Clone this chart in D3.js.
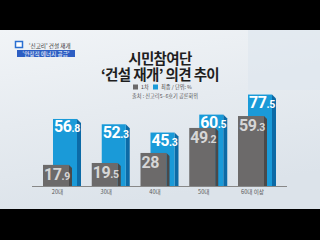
<!DOCTYPE html>
<html><head><meta charset="utf-8">
<script src="https://cdn.jsdelivr.net/npm/d3@7"></script>
<style>
html,body{margin:0;padding:0;background:#000;}
svg{display:block;}
</style></head>
<body>
<svg id="c" width="320" height="240"></svg>
<script>
const categories = ["20대", "30대", "40대", "50대", "60대 이상"];
const firstValues = [17.9, 19.5, 28, 49.2, 59.3];
const finalValues = [56.8, 52.3, 45.3, 60.5, 77.5];
const titleLines = ["시민참여단", "‘건설 재개’ 의견 추이"];
const legendLabels = ["1차", "최종 / 단위: %"];
const sourceText = "출처 : 신고리5·6호기 공론화위";
const badgeTop = "‘신고리’ 건설 재개";
const badgeBottom = "‘안정적 에너지 공급’";

const svg = d3.select("#c");
const KR = "'Noto Sans CJK KR','Noto Sans',sans-serif";

// background
const defs = svg.append("defs");
const g1 = defs.append("linearGradient").attr("id","bg").attr("x1","0").attr("y1","0").attr("x2","0.3").attr("y2","1");
g1.append("stop").attr("offset","0").attr("stop-color","#f1f4f7");
g1.append("stop").attr("offset","0.5").attr("stop-color","#e6ebf0");
g1.append("stop").attr("offset","1").attr("stop-color","#dce3ea");
svg.append("rect").attr("x",0).attr("y",0).attr("width",320).attr("height",240).attr("fill","#000");
svg.append("rect").attr("x",0).attr("y",30).attr("width",320).attr("height",179).attr("fill","url(#bg)");
svg.append("rect").attr("x",248).attr("y",30).attr("width",72).attr("height",60).attr("fill","#dde6ee").attr("opacity",0.6);

// badge
svg.append("rect").attr("x",15.5).attr("y",41.5).attr("width",7).attr("height",6).attr("fill","#fff").attr("stroke","#2a6fd1").attr("stroke-width",1.5);
svg.append("text").attr("x",29).attr("y",47.5).attr("font-family",KR).attr("font-size",5.6).attr("fill","#333").text(badgeTop);
svg.append("rect").attr("x",17).attr("y",50).attr("width",58).attr("height",7).attr("fill","#2d5ec3");
svg.append("text").attr("x",46).attr("y",55.6).attr("text-anchor","middle").attr("font-family",KR).attr("font-size",5.6).attr("fill","#fff").text(badgeBottom);

// title (one text, two lines)
const title = svg.append("text").attr("text-anchor","middle")
  .attr("font-family",KR).attr("font-weight","bold").attr("font-size",14.5).attr("letter-spacing",-0.6)
  .attr("fill","#1e1e1e");
titleLines.forEach((l,i)=>{
  title.append("tspan").attr("x",160).attr("y",64+i*16).text(l);
});

// legend
const legColors = ["#6b6a6a","#1a9ad8"];
const legX = [133,153];
legendLabels.forEach((l,i)=>{
  svg.append("rect").attr("x",legX[i]).attr("y",84.5).attr("width",5).attr("height",5).attr("fill",legColors[i]);
  svg.append("text").attr("x",legX[i]+8).attr("y",89.3).attr("font-family",KR).attr("font-size",5.2).attr("fill","#444").text(l);
});
svg.append("text").attr("x",132).attr("y",98).attr("font-family",KR).attr("font-size",5.2).attr("fill","#555").text(sourceText);

// scales
const x = d3.scalePoint().domain(categories).range([57,252]);
const y = d3.scaleLinear().domain([0,100]).range([186,68]);
const base = y(0);

function bar(g, left, w, side, val, front, dark){
  const top = y(val);
  g.append("polygon")
    .attr("points",[[left+w,top],[left+w+side,top+side],[left+w+side,base],[left+w,base]].map(p=>p.join(",")).join(" "))
    .attr("fill",dark);
  g.append("rect").attr("x",left).attr("y",top).attr("width",w).attr("height",base-top).attr("fill",front);
}
function label(g, left, val, color, dy){
  const s = String(val).split(".");
  const t = g.append("text").attr("x",left+1).attr("y",y(val)+dy)
    .attr("font-family","Roboto,'Liberation Sans',sans-serif").attr("font-weight","bold").attr("fill",color)
    .attr("letter-spacing",-0.4);
  t.append("tspan").attr("font-size",16).text(s[0]);
  if(s.length>1) t.append("tspan").attr("font-size",10.5).text("."+s[1]);
}

const groups = svg.append("g");
categories.forEach((c,i)=>{
  const cx = x(c);
  const g = groups.append("g");
  bar(g, cx-4, 24, 4, finalValues[i], "#1a9ad8", "#0c6aa6");
  label(g, cx-4, finalValues[i], "#ffffff", 13.5);
  bar(g, cx-14, 26, 3, firstValues[i], "#6c6a6a", "#4a4949");
  label(g, cx-14, firstValues[i], "#d6d6d6", 15);
});

// axis
const axis = d3.axisBottom(x).tickSize(0).tickPadding(4);
const ax = svg.append("g").attr("transform",`translate(0,${base})`).call(axis);
ax.select(".domain").remove();
svg.append("line").attr("x1",32).attr("x2",287).attr("y1",base+0.5).attr("y2",base+0.5).attr("stroke","#888").attr("stroke-width",1);
ax.selectAll("text").attr("font-family",KR).attr("font-size",5.6).attr("fill","#555");
</script>
</body></html>
